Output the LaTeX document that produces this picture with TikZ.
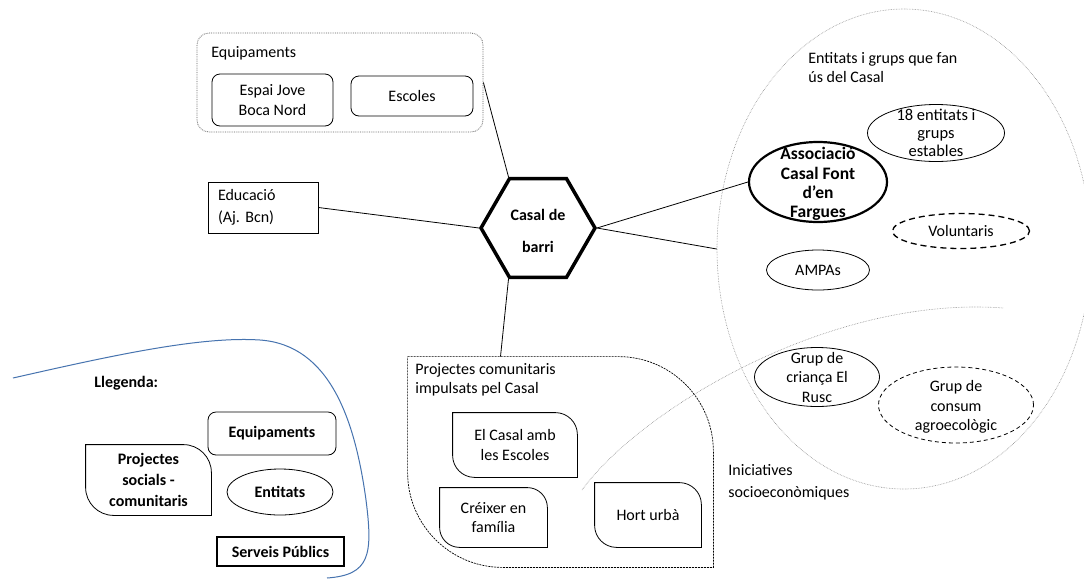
\documentclass[tikz,border=0pt]{standalone}
\usepackage{fontspec}
\setmainfont{Carlito}
\usetikzlibrary{shapes.geometric}
\definecolor{llegblau}{RGB}{70,115,175}
\definecolor{puntgris}{RGB}{140,140,140}
% vora amb cantonades arrodonides en diagonal (dalt dreta, baix esquerra)
\newcommand{\diagvora}[3][]{%
  \draw[#1] (#2.north west) -- ([xshift=-#3pt]#2.north east)
    arc[start angle=90, end angle=0, radius=#3pt] -- (#2.south east)
    -- ([xshift=#3pt]#2.south west) arc[start angle=270, end angle=180, radius=#3pt] -- cycle;}

\begin{document}
\begin{tikzpicture}[x=1pt,y=1pt, line width=0.8pt,
    font=\fontsize{16}{19.5}\selectfont,
    caixa/.style={draw, rounded corners=8pt, align=center, inner sep=0pt},
    elli/.style={draw, ellipse, inner sep=0pt},
    texte/.style={align=center, inner sep=0pt},
    etiq/.style={align=left, inner sep=0pt, anchor=north west},
    projbox/.style={align=center, inner sep=0pt},
    puntlinia/.style={draw=puntgris, line width=0.6pt, densely dotted}]
    \path[use as bounding box, fill=white] (0,0) rectangle (1084,-579);

    % Casal de barri al centre
    \node[regular polygon, regular polygon sides=6, minimum size=114, inner sep=0pt,
          draw, line width=3.5pt] (hex) at (538,-228) {};
    \node[texte, font=\bfseries\fontsize{16}{32}\selectfont] (hext) at (538,-231) {Casal de\\barri};

    % Equipaments
    \node[draw=puntgris!70!black, densely dotted, rounded corners=12pt,
          minimum width=286, minimum height=99] (equip) at (340,-82.5) {};
    \node[etiq, anchor=west] (equipt) at (211,-53) {Equipaments};
    \node[caixa, minimum width=121, minimum height=52] (espai) at (272.5,-100) {Espai Jove\\Boca Nord};
    \node[caixa, minimum width=122, minimum height=40] (escoles) at (412,-96) {Escoles};

    % Educacio
    \node[draw, minimum width=110, minimum height=51, text width=90, align=left,
          inner xsep=10pt, inner ysep=0pt, font=\fontsize{16}{22}\selectfont] (educ) at (263,-207.5) {Educació\\(Aj.\ Bcn)};

    % Entitats i grups
    \node[elli, puntlinia, minimum width=374, minimum height=480] (entgrup) at (904,-249) {};
    \node[etiq] (entgrupt) at (808,-52) {Entitats i grups que fan\\ús del Casal};
    \node[elli, minimum width=137, minimum height=57] (ent18) at (936,-133) {};
    \node[texte, font=\fontsize{16.5}{18}\selectfont] (ent18t) at (ent18) {18 entitats i\\grups\\estables};
    \node[elli, line width=2.2pt, minimum width=138, minimum height=80] (assoc) at (818,-182) {};
    \node[texte, font=\bfseries\fontsize{17.5}{19.3}\selectfont] (assoct) at (818,-184) {Associació\\Casal Font\\d’en\\Fargues};
    \node[elli, line width=1.3pt, dash pattern=on 6pt off 4pt, minimum width=137, minimum height=35] (volunt) at (961,-231) {};
    \node[texte] (voluntt) at (volunt) {Voluntaris};
    \node[elli, minimum width=103, minimum height=40] (ampas) at (818,-270) {};
    \node[texte] (ampast) at (ampas) {AMPAs};

    % Iniciatives socioeconomiques
    \draw[puntlinia] (582,-490) .. controls (640,-410) and (830,-295) .. (1003,-308);
    \node[etiq, font=\fontsize{16}{22}\selectfont] (inict) at (728,-464) {Iniciatives\\socioeconòmiques};
    \node[elli, minimum width=125, minimum height=59] (rusc) at (817,-377) {};
    \node[texte] (ruscs) at (rusc) {Grup de\\criança El\\Rusc};
    \node[elli, dash pattern=on 4pt off 3pt, minimum width=155, minimum height=76] (consum) at (956,-405) {};
    \node[texte] (consumt) at (956,-407) {Grup de\\consum\\agroecològic};

    % Projectes comunitaris
    \node[projbox, minimum width=305, minimum height=210] (proj) at (560.5,-462) {};
    \diagvora[dash pattern=on 2pt off 1pt, line width=0.7pt]{proj}{95}
    \node[etiq] (projt) at (415,-363) {Projectes comunitaris\\impulsats pel Casal};
    \node[projbox, minimum width=124, minimum height=64] (casalesc) at (515,-445) {El Casal amb\\les Escoles};
    \diagvora{casalesc}{22}
    \node[projbox, minimum width=107, minimum height=59] (creixer) at (493.5,-517.5) {Créixer en\\família};
    \diagvora{creixer}{20}
    \node[projbox, minimum width=106, minimum height=64] (hort) at (648,-515) {Hort urbà};
    \diagvora{hort}{22}

    % Connectors
    \draw (equip.east) -- (hex.120);
    \draw (educ.east) -- (hex.180);
    \draw (hex.240) -- ([xshift=-8pt]hex.240 |- proj.north);
    \draw (hex.0) -- (assoc.west);
    \draw (hex.0) -- (entgrup.west);

    % Llegenda
    \draw[llegblau, line width=1pt] (13,-378) .. controls (110,-356) and (200,-336) .. (260,-340)
        .. controls (330,-345) and (355,-420) .. (366,-500)
        .. controls (373,-555) and (370,-575) .. (327,-578);
    \node[etiq, anchor=west, font=\bfseries\fontsize{16}{19.5}\selectfont] (llegt) at (94,-383) {Llegenda:};
    \node[caixa, font=\bfseries\fontsize{16}{19.5}\selectfont, minimum width=128, minimum height=43] (lequip) at (272,-433.5) {Equipaments};
    \node[projbox, font=\bfseries\fontsize{16}{21}\selectfont, minimum width=125, minimum height=70] (lproj) at (148.5,-480) {Projectes\\socials -\\comunitaris};
    \diagvora{lproj}{28}
    \node[elli, minimum width=106, minimum height=46] (lent) at (280,-492) {};
    \node[texte, font=\bfseries\fontsize{16}{19.5}\selectfont] (lentt) at (lent) {Entitats};
    \node[draw, line width=1.1pt, font=\bfseries\fontsize{16}{19.5}\selectfont, minimum width=127, minimum height=29, inner sep=0pt] (lserv) at (280.5,-551.5) {Serveis Públics};
\end{tikzpicture}
\end{document}
